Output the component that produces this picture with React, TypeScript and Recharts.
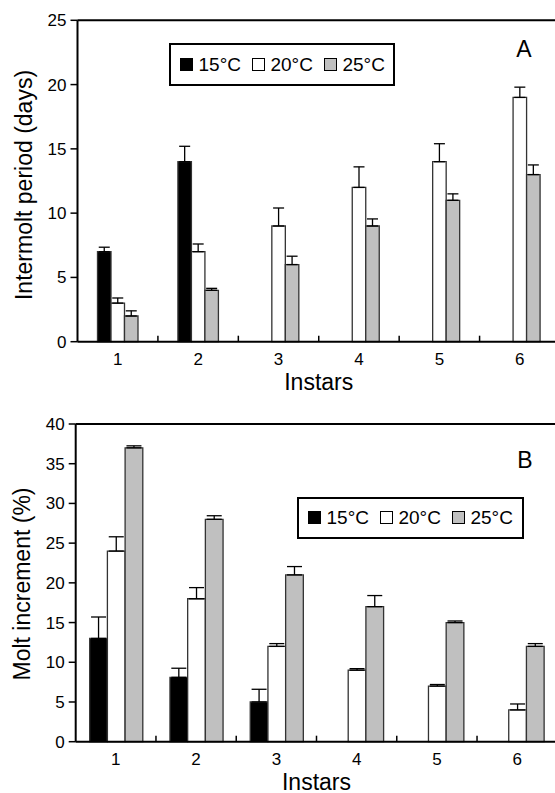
import React from 'react';
import { BarChart, Bar, XAxis, YAxis, ErrorBar, Legend, Label, ReferenceLine } from 'recharts';

const FONT = '"Liberation Sans", Arial, Helvetica, sans-serif';

// ---- data ----
const instars = ['1', '2', '3', '4', '5', '6'];
const seriesNames = ['15°C', '20°C', '25°C'];
const seriesFills = ['#000000', '#ffffff', '#c0c0c0'];

// Panel A: intermolt period (days)
const intermolt15 = [7, 14, null, null, null, null];
const intermolt20 = [3, 7, 9, 12, 14, 19];
const intermolt25 = [2, 4, 6, 9, 11, 13];
const intermoltErr15 = [0.35, 1.2, null, null, null, null];
const intermoltErr20 = [0.4, 0.6, 1.4, 1.6, 1.4, 0.8];
const intermoltErr25 = [0.4, 0.15, 0.65, 0.55, 0.5, 0.75];
const intermoltTicks = [0, 5, 10, 15, 20, 25];

// Panel B: molt increment (%)
const molt15 = [13, 8.1, 5, null, null, null];
const molt20 = [24, 18, 12, 9, 7, 4];
const molt25 = [37, 28, 21, 17, 15, 12];
const moltErr15 = [2.7, 1.15, 1.6, null, null, null];
const moltErr20 = [1.8, 1.4, 0.35, 0.2, 0.2, 0.75];
const moltErr25 = [0.25, 0.45, 1.05, 1.4, 0.2, 0.35];
const moltTicks = [0, 5, 10, 15, 20, 25, 30, 35, 40];

function buildRows(v15: any[], v20: any[], v25: any[], e15: any[], e20: any[], e25: any[]) {
  return instars.map((instar, i) => ({
    instar,
    t15: v15[i],
    t20: v20[i],
    t25: v25[i],
    e15: e15[i] == null ? null : [0, e15[i]],
    e20: e20[i] == null ? null : [0, e20[i]],
    e25: e25[i] == null ? null : [0, e25[i]],
  }));
}

const dataA = buildRows(intermolt15, intermolt20, intermolt25, intermoltErr15, intermoltErr20, intermoltErr25);
const dataB = buildRows(molt15, molt20, molt25, moltErr15, moltErr20, moltErr25);

const makeXTick = (bw: number) => (props: any) => {
  const { x, y, payload, index } = props;
  return (
    <g>
      {index < instars.length - 1 && (
        <line x1={x + bw / 2} x2={x + bw / 2} y1={y} y2={y - 6} stroke="#000" strokeWidth={1.5} />
      )}
      <text x={x} y={y + 23} textAnchor="middle" fontSize={17} fontFamily={FONT} fill="#000">
        {payload.value}
      </text>
    </g>
  );
};

const makeLegend = (w: number, h: number) => () => (
  <div
    style={{
      boxSizing: 'border-box',
      width: w,
      height: h,
      border: '2px solid #000',
      background: '#fff',
      display: 'flex',
      alignItems: 'center',
      paddingLeft: 9,
      fontFamily: FONT,
      fontSize: 19,
      lineHeight: 1,
      color: '#000',
    }}
  >
    {seriesNames.map((name, i) => (
      <div key={name} style={{ display: 'flex', alignItems: 'center', marginRight: 11 }}>
        <div
          style={{
            boxSizing: 'border-box',
            width: 13,
            height: 13,
            border: '1px solid #000',
            background: seriesFills[i],
            marginRight: 5.5,
          }}
        />
        <span style={{ whiteSpace: 'nowrap' }}>{name}</span>
      </div>
    ))}
  </div>
);

type PanelProps = {
  data: any[];
  top: number;
  plotTop: number;
  plotLeft: number;
  plotRight: number;
  yMax: number;
  ticks: number[];
  yLabel: string;
  yLabelX: number;
  yLabelCY: number;
  xLabelBaseline: number;
  letter: string;
  letterX: number;
  letterY: number;
  legendLeft: number;
  legendTop: number;
  legendW: number;
  legendH: number;
  barSize: number;
  capHalf: number;
};

const CHART_W = 600;
const CHART_H = 400;
const PLOT_BOTTOM = 341.7;

function Panel(p: PanelProps) {
  const bw = (p.plotRight - p.plotLeft) / instars.length;
  const keys = ['t15', 't20', 't25'];
  const errKeys = ['e15', 'e20', 'e25'];
  return (
    <div style={{ position: 'absolute', left: 0, top: p.top, width: CHART_W, height: CHART_H }}>
      <BarChart
        width={CHART_W}
        height={CHART_H}
        data={p.data}
        margin={{ top: p.plotTop, right: CHART_W - p.plotRight, left: 0, bottom: 0 }}
        barGap={0}
        barSize={p.barSize}
      >
        <XAxis
          dataKey="instar"
          height={CHART_H - PLOT_BOTTOM}
          axisLine={{ stroke: '#000', strokeWidth: 2 }}
          tickLine={false}
          tickSize={0}
          tickMargin={0}
          interval={0}
          tick={makeXTick(bw)}
        >
          <Label
            content={(lp: any) => {
              const vb = lp.viewBox || {};
              return (
                <text
                  x={vb.x + vb.width / 2}
                  y={p.xLabelBaseline}
                  textAnchor="middle"
                  fontSize={23}
                  fontFamily={FONT}
                  fill="#000"
                >
                  Instars
                </text>
              );
            }}
          />
        </XAxis>
        <YAxis
          width={p.plotLeft}
          domain={[0, p.yMax]}
          ticks={p.ticks}
          interval={0}
          axisLine={{ stroke: '#000', strokeWidth: 2 }}
          tickLine={{ stroke: '#000', strokeWidth: 1.5 }}
          tickSize={7}
          tickMargin={4}
          tick={{ fill: '#000', fontSize: 17, fontFamily: FONT }}
        >
          <Label
            content={() => (
              <text
                x={p.yLabelX}
                y={p.yLabelCY}
                transform={`rotate(-90 ${p.yLabelX} ${p.yLabelCY})`}
                textAnchor="middle"
                fontSize={23}
                fontFamily={FONT}
                fill="#000"
              >
                {p.yLabel}
              </text>
            )}
          />
        </YAxis>
        <ReferenceLine y={p.yMax} stroke="#000" strokeWidth={2} ifOverflow="visible" />
        {keys.map((k, i) => (
          <Bar
            key={k}
            dataKey={k}
            name={seriesNames[i]}
            fill={seriesFills[i]}
            stroke="#333"
            strokeWidth={1.3}
            isAnimationActive={false}
          >
            <ErrorBar dataKey={errKeys[i]} width={p.capHalf} stroke="#000" strokeWidth={1.3} direction="y" />
          </Bar>
        ))}
        <Legend
          layout="vertical"
          align="center"
          verticalAlign="middle"
          content={makeLegend(p.legendW, p.legendH)}
          wrapperStyle={{ left: p.legendLeft, top: p.legendTop, width: p.legendW, height: p.legendH, bottom: 'auto', right: 'auto' }}
        />
        <text x={p.letterX} y={p.letterY} textAnchor="middle" fontSize={23} fontFamily={FONT} fill="#000">
          {p.letter}
        </text>
      </BarChart>
    </div>
  );
}

export default function App() {
  return (
    <div
      style={{
        position: 'absolute',
        left: 0,
        top: 0,
        width: 555,
        height: 793,
        overflow: 'hidden',
        background: '#fff',
      }}
    >
      <Panel
        data={dataA}
        top={0}
        plotTop={20.3}
        plotLeft={77.5}
        plotRight={560}
        yMax={25}
        ticks={intermoltTicks}
        yLabel="Intermolt period (days)"
        yLabelX={32}
        yLabelCY={185}
        xLabelBaseline={390}
        letter="A"
        letterX={524}
        letterY={56.5}
        legendLeft={169}
        legendTop={43}
        legendW={226}
        legendH={43}
        barSize={13.5}
        capHalf={5.5}
      />
      <Panel
        data={dataB}
        top={400}
        plotTop={24}
        plotLeft={75.7}
        plotRight={557.3}
        yMax={40}
        ticks={moltTicks}
        yLabel="Molt increment (%)"
        yLabelX={30}
        yLabelCY={184}
        xLabelBaseline={389.5}
        letter="B"
        letterX={525}
        letterY={68.3}
        legendLeft={297}
        legendTop={96.7}
        legendW={227}
        legendH={42}
        barSize={17.7}
        capHalf={7.5}
      />
    </div>
  );
}
